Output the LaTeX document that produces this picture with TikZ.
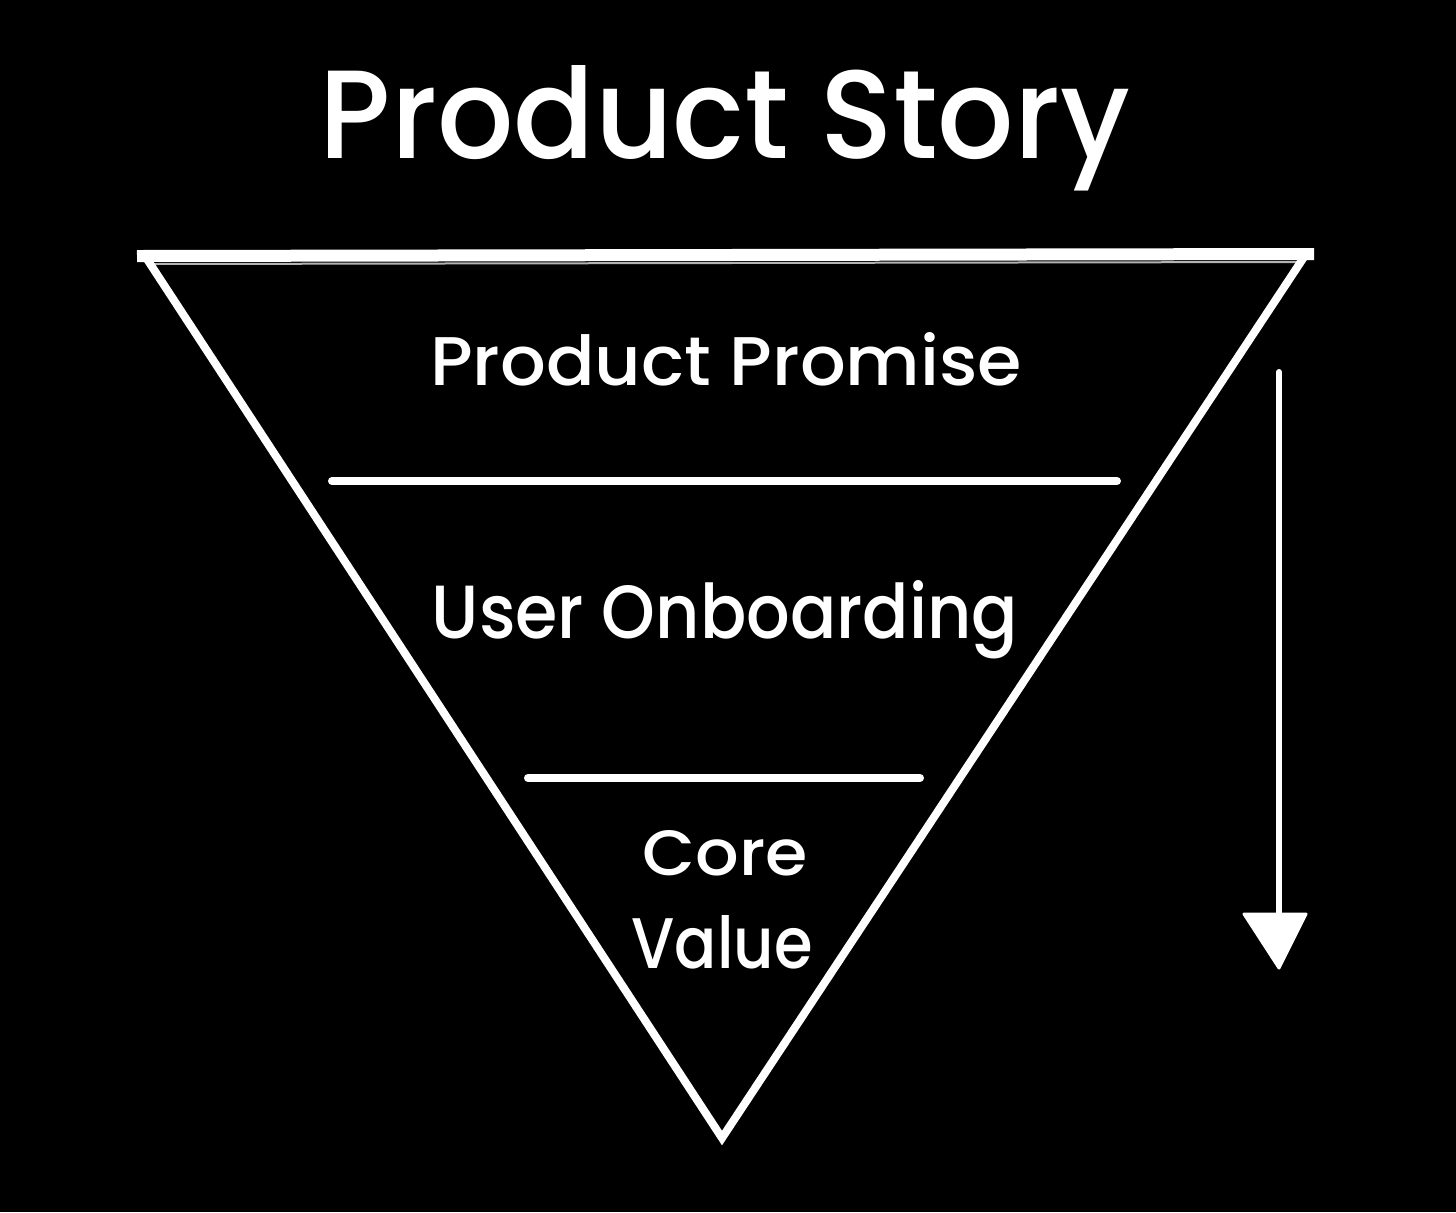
\documentclass[tikz,border=0pt]{standalone}
\usepackage{fontspec}
\setmainfont{Poppins}[BoldFont={Poppins Medium}]
\usepackage{graphicx}
\tikzset{
  chalk/.style={draw=white, line cap=round, line join=round},
  edge/.style={draw=white, line width=4pt, line join=miter},
  topedge/.style={draw=white, line width=6pt, line cap=butt},
  divider/.style={chalk, line width=4pt},
  label/.style={text=white, inner sep=0pt, anchor=base, font=\bfseries},
}
\begin{document}
\begin{tikzpicture}[x=0.5pt,y=-0.5pt]
\fill[black] (0,0) rectangle (1456,1212);
\useasboundingbox (0,0) rectangle (1456,1212);
% triangle
\coordinate (tl) at (145,256);
\coordinate (tr) at (1306,254);
\coordinate (bt) at (722,1138);
\draw[edge] (tl) -- (bt) -- (tr) -- cycle;
\draw[topedge] ([xshift=-4pt]tl) -- ([xshift=4pt]tr);
\draw[draw=white, line width=1pt, opacity=0.7] (152,264) -- (1298,262);
% dividers
\coordinate (d1a) at (332,481);
\coordinate (d1b) at (1117,481);
\coordinate (d2a) at (528,778);
\coordinate (d2b) at (920,778);
\draw[divider] (d1a) -- (d1b);
\draw[divider] (d2a) -- (d2b);
% arrow
\coordinate (as) at (1279,372);
\coordinate (ae) at (1279,915);
\coordinate (hl) at (1244,914);
\coordinate (hr) at (1306,914);
\coordinate (ht) at (1279,968);
\draw[chalk, line width=3pt] (as) -- (ae);
\filldraw[chalk, fill=white, line width=1.5pt] (hl) -- (hr) -- (ht) -- cycle;
% texts
\node[label] (title) at (725,158) {\resizebox{405pt}{46.5pt}{Product Story}};
\node[label] (promise) at (726,385) {\resizebox{296pt}{26.5pt}{Product Promise}};
\node[label] (onboard) at (725,638) {\resizebox{293pt}{29pt}{User Onboarding}};
\node[label] (core) at (725,875) {\resizebox{82.5pt}{22.5pt}{Core}};
\node[label] (value) at (722,968) {\resizebox{90.5pt}{26.5pt}{Value}};
\end{tikzpicture}
\end{document}
